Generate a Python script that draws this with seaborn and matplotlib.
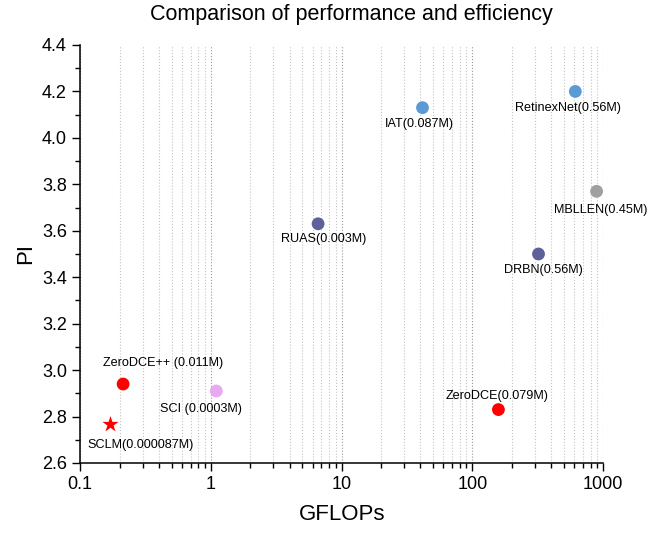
import numpy as np
import pandas as pd
import matplotlib
matplotlib.use("Agg")
import matplotlib.pyplot as plt
import seaborn as sns
from matplotlib.ticker import LogLocator, MultipleLocator, FixedLocator, FixedFormatter

# values
methods = ["SCLM", "ZeroDCE++", "SCI", "RUAS", "IAT", "RetinexNet", "MBLLEN", "DRBN", "ZeroDCE"]
params = ["0.000087M", "0.011M", "0.0003M", "0.003M", "0.087M", "0.56M", "0.45M", "0.56M", "0.079M"]
gflops = [0.17, 0.213, 1.1, 6.6, 41.5, 612, 890, 320, 158]
pi_vals = [2.77, 2.94, 2.91, 3.63, 4.13, 4.20, 3.77, 3.50, 2.83]
label_text = ["SCLM(0.000087M)", "ZeroDCE++ (0.011M)", "SCI (0.0003M)", "RUAS(0.003M)",
              "IAT(0.087M)", "RetinexNet(0.56M)", "MBLLEN(0.45M)", "DRBN(0.56M)", "ZeroDCE(0.079M)"]

palette = {"SCLM": "#ff0000", "ZeroDCE++": "#ff0000", "SCI": "#e8a9f2", "RUAS": "#5f5f99",
           "IAT": "#5b9bd5", "RetinexNet": "#5b9bd5", "MBLLEN": "#a0a0a0", "DRBN": "#5f5f99",
           "ZeroDCE": "#ff0000"}
# label offsets in pixels (dx right, dy down) from each marker
offsets = {"SCLM": (30, 21), "ZeroDCE++": (40, -21), "SCI": (-15, 18), "RUAS": (6, 15),
           "IAT": (-3, 16), "RetinexNet": (-7, 17), "MBLLEN": (4, 19), "DRBN": (5, 16),
           "ZeroDCE": (-1, -14)}

df = pd.DataFrame({"method": methods, "GFLOPs": gflops, "PI": pi_vals, "label": label_text})

sns.set_style("ticks")
plt.rcParams['font.family'] = ['Liberation Sans', 'DejaVu Sans']
plt.rcParams['text.color'] = 'black'
plt.rcParams['axes.labelcolor'] = 'black'

fig = plt.figure(figsize=(6.68, 5.35), dpi=100)
ax = fig.add_axes([0.12, 0.1346, 0.783, 0.7813])

circles = df[df["method"] != "SCLM"]
star = df[df["method"] == "SCLM"]
sns.scatterplot(data=circles, x="GFLOPs", y="PI", hue="method", palette=palette,
                s=85, linewidth=0, legend=False, ax=ax, zorder=3)
sns.scatterplot(data=star, x="GFLOPs", y="PI", color="#ff0000", marker="*",
                s=150, linewidth=0, legend=False, ax=ax, zorder=3)

for _, r in df.iterrows():
    dx, dy = offsets[r["method"]]
    ax.annotate(r["label"], (r["GFLOPs"], r["PI"]), xytext=(dx * 0.72, -dy * 0.72),
                textcoords="offset points", ha="center", va="center", fontsize=9.1,
                color="black")

ax.set_xscale("log")
ax.set_xlim(0.1, 1000)
ax.set_ylim(2.6, 4.4)
ax.xaxis.set_major_locator(FixedLocator([0.1, 1, 10, 100, 1000]))
ax.xaxis.set_major_formatter(FixedFormatter(["0.1", "1", "10", "100", "1000"]))
ax.xaxis.set_minor_locator(LogLocator(base=10, subs=np.arange(2, 10)))
ax.yaxis.set_major_locator(MultipleLocator(0.2))
ax.yaxis.set_minor_locator(MultipleLocator(0.1))
ax.yaxis.set_major_formatter(matplotlib.ticker.FormatStrFormatter("%.1f"))

ax.grid(True, axis="x", which="major", linestyle=":", color="#999999", linewidth=0.8)
ax.grid(True, axis="x", which="minor", linestyle=":", color="#c4c4c4", linewidth=0.8)
ax.set_axisbelow(True)

ax.tick_params(which="major", direction="out", length=6, width=1, labelsize=13,
               colors="black", labelcolor="black")
ax.tick_params(which="minor", direction="out", length=3.5, width=1, colors="black")
sns.despine(ax=ax)
for sp in ["left", "bottom"]:
    ax.spines[sp].set_linewidth(1.1)
    ax.spines[sp].set_color("black")

ax.set_xlabel("GFLOPs", fontsize=16, labelpad=8)
ax.set_ylabel("PI", fontsize=16, labelpad=4)
ax.set_title("Comparison of performance and efficiency", fontsize=15.5, x=0.518, pad=18,
             color="black")

plt.savefig("out.png", dpi=100)
